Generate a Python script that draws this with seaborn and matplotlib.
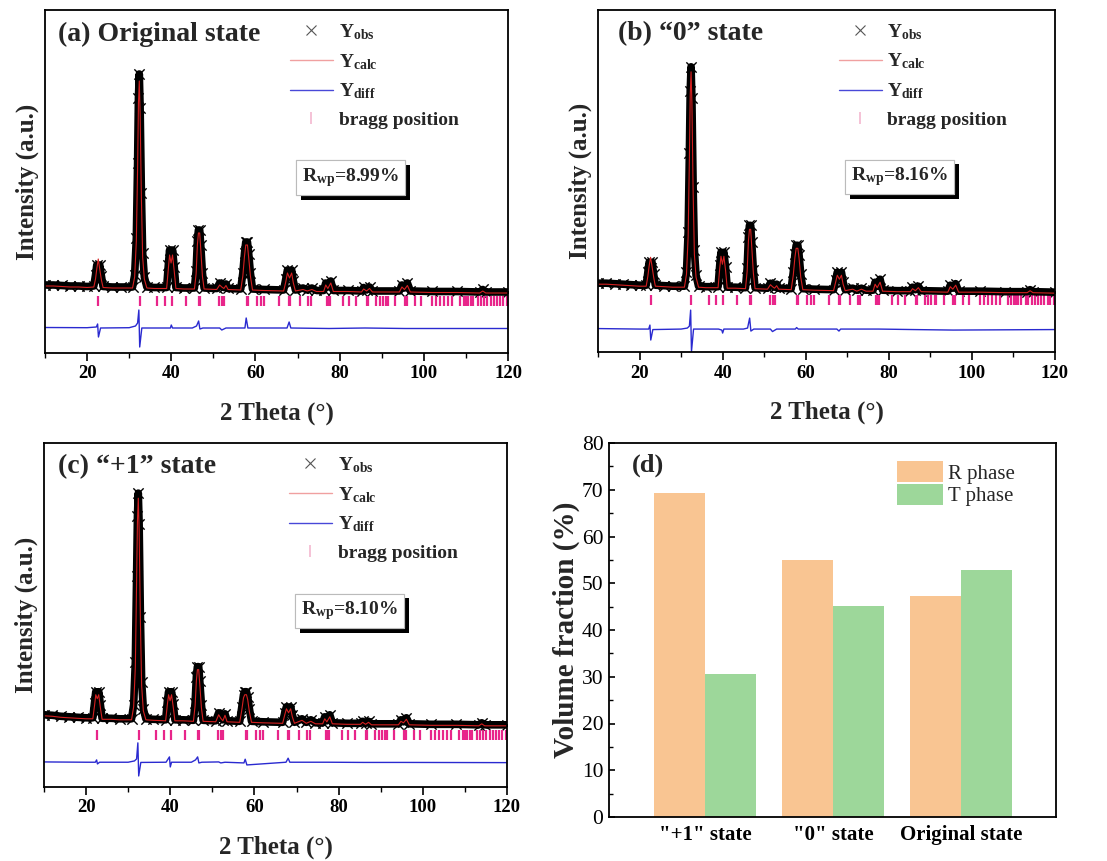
import numpy as np
import pandas as pd
import matplotlib
matplotlib.use("Agg")
import matplotlib.pyplot as plt
import seaborn as sns
from matplotlib.lines import Line2D
from matplotlib.patches import Patch
from matplotlib.ticker import MultipleLocator
from matplotlib import patheffects


# 2 theta grid (shared by panels a-c)
tth = [10, 12, 14, 16, 18, 20,
       21.6, 22.0, 22.3, 22.65, 23.0, 23.4, 23.8,
       26, 28,
       30.8, 31.3, 31.7, 32.0, 32.2, 32.4, 32.6, 32.9, 33.2, 33.6, 34.2,
       36,
       38.9, 39.3, 39.6, 39.95, 40.3, 40.7, 41.1,
       43,
       45.5, 45.9, 46.2, 46.45, 46.75, 47.0, 47.4, 47.8,
       50.8, 51.5, 52.0, 52.5, 53.0, 53.5,
       56.5, 57.0, 57.4, 57.7, 58.1, 58.4, 58.8, 59.3,
       62,
       66.7, 67.2, 67.6, 68.1, 68.6, 69.0, 69.5,
       71.3, 72.3, 73.4, 74.5,
       76.2, 76.7, 77.2, 77.9, 78.5,
       82,
       85.2, 85.7, 86.4, 87.1, 87.8,
       94.2, 94.8, 95.4, 96.1, 96.8,
       102, 108,
       113.3, 114, 114.7,
       120]

# (a) original state
obs_a = [68, 68, 67.5, 67, 67, 66.5,
         67, 78, 88, 82, 88, 77, 66.5,
         66, 66,
         66, 78, 115, 190, 255, 279, 245, 160, 100, 76, 66,
         65.5,
         65.5, 88, 103, 92, 103, 86, 65.5,
         65,
         65, 82, 112, 123, 123, 108, 80, 65,
         64.5, 70, 67, 65.5, 69, 64.5,
         64, 80, 100, 111, 111, 99, 80, 64,
         63.5,
         63, 74, 83, 77, 83, 72, 63,
         65, 63, 65, 62.5,
         62.5, 70, 66, 72, 62.5,
         62.5,
         62, 65.5, 63, 66, 62,
         62, 68, 65, 70, 62,
         61.5, 61.5,
         61, 63.5, 61,
         61]
calc_a = [67, 67, 66.5, 66, 66, 65.5,
          66, 74, 84, 94, 84, 73, 65.5,
          65, 65,
          65, 76, 112, 185, 250, 272, 238, 155, 96, 74, 65,
          64.5,
          64.5, 84, 98, 90, 98, 82, 64.5,
          64,
          64, 79, 108, 120, 120, 104, 77, 64,
          63.5, 68, 66, 64.5, 67.5, 63.5,
          63, 77, 97, 108, 108, 95, 77, 63,
          62.5,
          62, 71, 80, 75, 80, 70, 62,
          63.5, 62, 63.5, 61.5,
          61.5, 68, 64.5, 70, 61.5,
          61.5,
          61, 64, 62, 64.5, 61,
          61, 66, 63.5, 67.5, 61,
          60.5, 60.5,
          60, 62, 60,
          60]

# (b) "0" state
obs_b = [69, 69, 68.5, 68, 67.5, 67,
         67, 80, 90, 84, 90, 78, 67,
         66.5, 66,
         66, 80, 120, 200, 262, 286, 255, 165, 102, 77, 66,
         65.5,
         65.5, 87, 100, 90, 100, 85, 65,
         65,
         64.5, 84, 115, 127, 127, 110, 82, 64.5,
         64, 69, 66.5, 65, 68, 64,
         63.5, 80, 98, 107, 107, 97, 78, 63.5,
         63,
         62.5, 72, 80, 75, 80, 70, 62.5,
         64, 62, 64, 62,
         62, 70, 66, 73, 62,
         61.5,
         61.5, 65, 62.5, 66, 61.5,
         61, 67, 64, 68.5, 61,
         61, 60.5,
         60.5, 62.5, 60.5,
         60]
calc_b = [68, 68, 67.5, 67, 66.5, 66,
          66, 76, 86, 95, 86, 75, 66,
          65.5, 65,
          65, 78, 116, 195, 258, 281, 250, 160, 98, 75, 65,
          64.5,
          64.5, 84, 96, 88, 96, 82, 64,
          64,
          63.5, 81, 111, 123, 123, 106, 79, 63.5,
          63, 67.5, 65.5, 64, 66.5, 63,
          62.5, 77, 95, 104, 104, 94, 75, 62.5,
          62,
          61.5, 70, 77, 73, 77, 68, 61.5,
          63, 61, 63, 61,
          61, 68, 64.5, 70, 61,
          60.5,
          60.5, 63.5, 61.5, 64.5, 60.5,
          60, 65.5, 63, 67, 60,
          60, 59.5,
          59.5, 61.5, 59.5,
          59]

# (c) "+1" state
obs_c = [72, 71.5, 70.5, 70, 69.5, 69,
         69, 84, 95, 88, 95, 82, 68.5,
         68.5, 68,
         68, 82, 125, 210, 270, 293, 262, 170, 105, 78, 68,
         67.5,
         67, 85, 95, 88, 95, 83, 67,
         67,
         66.5, 84, 110, 120, 120, 106, 82, 66.5,
         66, 74, 70, 67, 73, 66,
         65.5, 80, 92, 95, 95, 90, 78, 65.5,
         65,
         64.5, 74, 80, 76, 80, 72, 64.5,
         68, 64.5, 67, 64,
         64, 70, 66, 72, 64,
         63.5,
         63.5, 65.5, 63.5, 65.5, 63,
         63, 67, 65, 69, 63,
         62.5, 62.5,
         62, 64, 62,
         62]
calc_c = [71, 70.5, 69.5, 69, 68.5, 68,
          68, 81, 92, 88, 92, 79, 67.5,
          67.5, 67,
          67, 80, 120, 205, 265, 288, 256, 165, 101, 76, 67,
          66.5,
          66, 82, 92, 86, 92, 80, 66,
          66,
          65.5, 81, 106, 117, 117, 103, 79, 65.5,
          65, 72, 68.5, 66, 71.5, 65,
          64.5, 77, 89, 92, 92, 87, 75, 64.5,
          64,
          63.5, 72, 78, 74, 78, 70, 63.5,
          66.5, 63.5, 65.5, 63,
          63, 68, 65, 70, 63,
          62.5,
          62.5, 64.5, 62.5, 64.5, 62,
          62, 65.5, 64, 67.5, 62,
          61.5, 61.5,
          61, 63, 61,
          61]

# difference curves (shifted below the patterns)
diff_tth = [10, 20, 22.2, 22.5, 22.7, 23.2, 30, 31.5, 32.0, 32.3, 32.5, 33.0,
            39, 39.8, 40.0, 40.3, 45, 46.0, 46.5, 46.8, 47.5, 51.5, 52.0, 53,
            57.5, 57.8, 58.2, 67.5, 68.0, 68.4, 77.5, 86, 95.5, 120]
diff_a = [25.5, 25.3, 26, 29, 16, 25, 25.3, 27, 30, 43, 6, 25,
          25, 25, 28, 25, 25, 27, 32, 24, 25, 25, 23, 25,
          25, 35, 25, 25, 31, 25, 24.5, 25, 24.5, 24.5]
diff_b = [23.5, 23, 23, 27, 12, 22.5, 23, 24, 26, 42, 0.5, 23,
          23, 22, 19, 23, 23, 24, 34, 21, 23, 23, 20.5, 23,
          23, 24.5, 23, 23, 21, 23, 23, 22.5, 22, 22.5]
diff_c = [25, 24.7, 24.7, 27, 23, 24.7, 24.7, 26, 28, 44, 11, 24.5,
          24.7, 30, 20, 24.7, 24.7, 27, 30, 24, 24.7, 25, 24, 24.7,
          24, 27.7, 22, 24.7, 28.7, 24.7, 24.7, 24.5, 24.5, 24.3]

# bragg reflections
bragg = [22.7, 32.5, 36.6, 38.5, 40.2, 43.4, 46.5, 46.8, 51.4, 52.1, 52.6,
         57.9, 58.2, 60.4, 61.2, 62.1, 65.7, 68.0, 68.3, 70.6, 72.5, 73.1,
         77.0, 77.4, 77.6, 80.8, 82.3, 83.8, 86.5, 86.8, 88.7, 89.5, 90.2,
         91.0, 91.4, 93.2, 95.5, 95.9, 97.8, 99.3, 101.9, 102.8, 103.8,
         104.9, 105.7, 106.8, 108.7, 109.5, 110.1, 110.6, 111.1, 111.7,
         112.9, 113.6, 114.4, 115.1, 115.9, 116.6, 117.4, 118.2, 118.9, 119.7]

# (d) phase fractions
states = ['"+1" state', '"0" state', "Original state"]
r_phase = [69.2, 54.9, 47.2]
t_phase = [30.6, 45.2, 52.8]

W, H = 1107, 861
ORANGE = "#F9C592"
GREEN = "#9DD79A"
PINK = "#E8258A"

sns.set_theme(style="ticks")
plt.rcParams["font.family"] = ["Liberation Serif", "DejaVu Serif"]
plt.rcParams["mathtext.fontset"] = "custom"
plt.rcParams["mathtext.rm"] = "Liberation Serif"
plt.rcParams["mathtext.bf"] = "Liberation Serif:bold"
plt.rcParams["mathtext.it"] = "Liberation Serif:italic"
plt.rcParams["axes.edgecolor"] = "black"
plt.rcParams["axes.linewidth"] = 1.3
plt.rcParams["xtick.color"] = "black"
plt.rcParams["ytick.color"] = "black"


def px_axes(fig, left, right, top, bottom):
    return fig.add_axes([left / W, 1 - bottom / H, (right - left) / W, (bottom - top) / H])


def draw_refinement(ax, obs, calc, diff, title, rwp, title_x, leg_x):
    sns.lineplot(x=tth, y=obs, ax=ax, color="black", lw=5.5, sort=False)
    sns.scatterplot(x=tth, y=obs, ax=ax, color="black", marker="x", s=55, linewidth=1.0)
    sns.lineplot(x=tth, y=calc, ax=ax, color="#D42020", lw=0.8, sort=False)
    sns.lineplot(x=diff_tth, y=diff, ax=ax, color="#2A2AD0", lw=1.0, sort=False)
    sns.scatterplot(x=bragg, y=[52] * len(bragg), ax=ax, color=PINK, marker="|",
                    s=60, linewidth=1.6)

    ax.set_xlim(10, 120)
    ax.set_ylim(0, 343)
    ax.xaxis.set_major_locator(MultipleLocator(20))
    ax.xaxis.set_minor_locator(MultipleLocator(10))
    ax.tick_params(axis="x", which="major", direction="out", length=6, width=1.2,
                   labelsize=13.5, pad=3)
    ax.tick_params(axis="x", which="minor", direction="out", length=3.5, width=1.0)
    ax.tick_params(axis="y", left=False, labelleft=False)
    for lab in ax.get_xticklabels():
        lab.set_fontweight("bold")
    ax.set_xlabel("2 Theta (°)", fontsize=18, fontweight="bold", labelpad=14)
    ax.set_ylabel("Intensity (a.u.)", fontsize=18, fontweight="bold", labelpad=4)

    ax.text(title_x, 0.93, title, transform=ax.transAxes, fontsize=20,
            fontweight="bold", va="center", ha="left")

    handles = [
        Line2D([], [], ls="none", marker="x", color="#555555", ms=7, mew=0.8),
        Line2D([], [], color="#F0A0A0", lw=1.0),
        Line2D([], [], color="#4848D8", lw=1.0),
        Line2D([], [], ls="none", marker="|", color="#F4B8D0", ms=8, mew=1.2),
    ]
    labels = [r"$\mathbf{Y}_{\mathbf{obs}}$", r"$\mathbf{Y}_{\mathbf{calc}}$",
              r"$\mathbf{Y}_{\mathbf{diff}}$", "bragg position"]
    ax.legend(handles, labels, loc="upper left", bbox_to_anchor=(leg_x, 0.965),
              frameon=False, handlelength=2.2, handletextpad=0.3,
              labelspacing=0.52, borderaxespad=0, borderpad=0,
              prop={"weight": "bold", "size": 14})

    t = ax.text(0.66, 0.512, r"$\mathbf{R}_{\mathbf{wp}}$=" + rwp, transform=ax.transAxes,
                fontsize=14, fontweight="bold", ha="center", va="center",
                bbox=dict(boxstyle="square,pad=0.3", fc="white", ec="#BBBBBB", lw=0.8))
    t.get_bbox_patch().set_path_effects([
        patheffects.withSimplePatchShadow(offset=(3.5, -3.5), shadow_rgbFace="black", alpha=1.0),
        patheffects.Normal(),
    ])


fig = plt.figure(figsize=(W / 100, H / 100), dpi=100)

ax_a = px_axes(fig, 45, 508, 10, 353)
draw_refinement(ax_a, obs_a, calc_a, diff_a, "(a) Original state", "8.99%", 0.028, 0.529)

ax_b = px_axes(fig, 598, 1055, 10, 352)
draw_refinement(ax_b, obs_b, calc_b, diff_b, "(b) \u201c0\u201d state", "8.16%", 0.044, 0.527)

ax_c = px_axes(fig, 44, 507, 443, 787)
draw_refinement(ax_c, obs_c, calc_c, diff_c, "(c) \u201c+1\u201d state", "8.10%", 0.03, 0.529)

# (d) volume fractions
ax_d = px_axes(fig, 609, 1056, 443, 817)
df = pd.DataFrame({
    "state": states * 2,
    "fraction": r_phase + t_phase,
    "phase": ["R phase"] * 3 + ["T phase"] * 3,
})
sns.barplot(data=df, x="state", y="fraction", hue="phase", palette=[ORANGE, GREEN],
            saturation=1, width=0.8, linewidth=0, ax=ax_d, legend=False)
ax_d.set_xlim(-0.75, 2.74)
ax_d.set_ylim(0, 80)
ax_d.yaxis.set_major_locator(MultipleLocator(10))
ax_d.yaxis.set_minor_locator(MultipleLocator(5))
ax_d.tick_params(axis="y", which="major", direction="in", length=4.5, width=1.2,
                 labelsize=15.5, pad=4)
ax_d.tick_params(axis="y", which="minor", direction="in", length=3, width=1.0)
ax_d.tick_params(axis="x", length=0, labelsize=15, pad=6)
for lab in ax_d.get_xticklabels():
    lab.set_fontweight("bold")
ax_d.set_xlabel("")
ax_d.set_ylabel("Volume fraction (%)", fontsize=21, fontweight="bold", labelpad=1)
ax_d.text(0.051, 0.94, "(d)", transform=ax_d.transAxes, fontsize=19,
          fontweight="bold", va="center", ha="left")
ax_d.legend([Patch(fc=ORANGE, ec="none"), Patch(fc=GREEN, ec="none")],
            ["R phase", "T phase"], loc="upper left", bbox_to_anchor=(0.644, 0.952),
            frameon=False, fontsize=15, handlelength=2.2, handleheight=1.2,
            handletextpad=0.25, labelspacing=0.0, borderaxespad=0, borderpad=0)

fig.savefig("out.png", dpi=100)
